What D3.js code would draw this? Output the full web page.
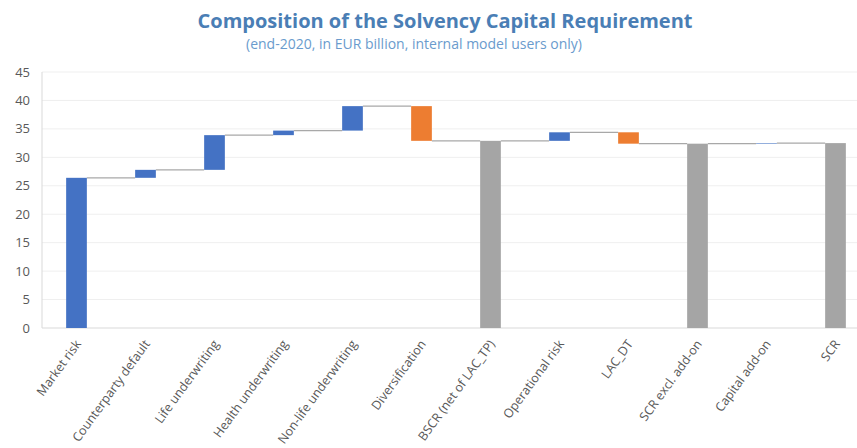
<!DOCTYPE html>
<html>
<head>
<meta charset="utf-8">
<script src="https://cdn.jsdelivr.net/npm/d3@7"></script>
<style>
  body { margin: 0; background: #fff; }
  svg { display: block; font-family: "Open Sans", sans-serif; }
</style>
</head>
<body>
<svg width="857" height="448"></svg>
<script>
// data (EUR billion)
var categories = ["Market risk", "Counterparty default", "Life underwriting", "Health underwriting",
    "Non-life underwriting", "Diversification", "BSCR (net of LAC_TP)", "Operational risk",
    "LAC_DT", "SCR excl. add-on", "Capital add-on", "SCR"];
var values = [26.4, 1.4, 6.1, 0.8, 4.3, -6.1, 32.9, 1.5, -2.0, 32.4, 0.1, 32.5];
var kinds = ["delta", "delta", "delta", "delta", "delta", "delta", "total", "delta", "delta", "total", "delta", "total"];
var yTicks = [0, 5, 10, 15, 20, 25, 30, 35, 40, 45];

var svg = d3.select("svg"),
    width = +svg.attr("width"),
    height = +svg.attr("height");

var plotLeft = 42, plotTop = 72, plotBottom = 328, plotRight = 870;

var colors = { up: "#4472c4", down: "#ed7d31", total: "#a5a5a5" };

// running totals -> bar start / end
var run = 0;
var bars = categories.map(function (c, i) {
    var v = values[i], d;
    if (kinds[i] == "total") {
        d = { name: c, y0: 0, y1: v, end: v, fill: colors.total };
        run = v;
    } else {
        d = { name: c, y0: run, y1: run + v, end: run + v, fill: v < 0 ? colors.down : colors.up };
        run = run + v;
    }
    return d;
});

var x = d3.scaleBand().domain(categories).range([plotLeft, plotRight]);
var y = d3.scaleLinear().domain([0, 45]).range([plotBottom, plotTop]);
var bw = x.bandwidth() * 0.3;

// gridlines
svg.append("g")
    .selectAll("line")
    .data(yTicks.slice(1))
    .enter().append("line")
    .attr("x1", plotLeft).attr("x2", width)
    .attr("y1", function (d) { return y(d); })
    .attr("y2", function (d) { return y(d); })
    .attr("stroke", "#efefef")
    .attr("stroke-width", 1);

// axis lines
svg.append("line")
    .attr("x1", plotLeft).attr("x2", width)
    .attr("y1", plotBottom).attr("y2", plotBottom)
    .attr("stroke", "#d9d9d9");
svg.append("line")
    .attr("x1", plotLeft).attr("x2", plotLeft)
    .attr("y1", plotTop).attr("y2", plotBottom)
    .attr("stroke", "#d9d9d9");

// y tick labels
svg.append("g")
    .selectAll("text")
    .data(yTicks)
    .enter().append("text")
    .attr("x", 30)
    .attr("y", function (d) { return y(d); })
    .attr("dy", "0.35em")
    .attr("text-anchor", "end")
    .attr("fill", "#595959")
    .attr("font-size", 13)
    .text(function (d) { return d; });

// connectors
svg.append("g")
    .selectAll("line")
    .data(bars.slice(0, -1))
    .enter().append("line")
    .attr("x1", function (d) { return x(d.name) + x.bandwidth() / 2 + bw / 2; })
    .attr("x2", function (d, i) { return x(categories[i + 1]) + x.bandwidth() / 2 - bw / 2; })
    .attr("y1", function (d) { return y(d.end); })
    .attr("y2", function (d) { return y(d.end); })
    .attr("stroke", "#a8a8a8")
    .attr("stroke-width", 1.3);

// bars
svg.append("g")
    .selectAll("rect")
    .data(bars)
    .enter().append("rect")
    .attr("x", function (d) { return x(d.name) + x.bandwidth() / 2 - bw / 2; })
    .attr("width", bw)
    .attr("y", function (d) { return y(Math.max(d.y0, d.y1)); })
    .attr("height", function (d) { return Math.abs(y(d.y0) - y(d.y1)); })
    .attr("fill", function (d) { return d.fill; });

// x labels, rotated
svg.append("g")
    .selectAll("text")
    .data(categories)
    .enter().append("text")
    .attr("transform", function (d) {
        return "translate(" + (x(d) + x.bandwidth() / 2 + 5) + ",344) rotate(-54)";
    })
    .attr("text-anchor", "end")
    .attr("fill", "#595959")
    .attr("font-size", 12.5)
    .text(function (d) { return d; });

// titles
svg.append("text")
    .attr("x", 445).attr("y", 28)
    .attr("text-anchor", "middle")
    .attr("font-size", 20)
    .attr("font-weight", "bold")
    .attr("fill", "#4a7eb5")
    .text("Composition of the Solvency Capital Requirement");
svg.append("text")
    .attr("x", 414).attr("y", 49)
    .attr("text-anchor", "middle")
    .attr("font-size", 14)
    .attr("fill", "#6a9bcd")
    .text("(end-2020, in EUR billion, internal model users only)");
</script>
</body>
</html>
